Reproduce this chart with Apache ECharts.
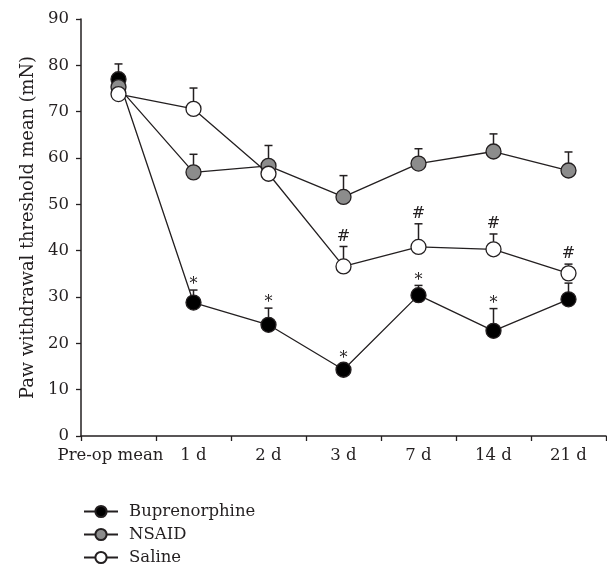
<!DOCTYPE html>
<html>
<head>
<meta charset="utf-8">
<script src="https://cdn.jsdelivr.net/npm/echarts@6/dist/echarts.min.js"></script>
<style>
html,body{margin:0;padding:0;background:#fff;}
#chart{width:607px;height:572px;}
</style>
</head>
<body>
<div id="chart"></div>
<script>
const categories = ['Pre-op mean', '1 d', '2 d', '3 d', '7 d', '14 d', '21 d'];
const yTicks = [0, 10, 20, 30, 40, 50, 60, 70, 80, 90];

const bupMean   = [77.0, 28.8, 24.0, 14.3, 30.4, 22.7, 29.5];
const bupUpper  = [80.3, 31.5, 27.6, 15.5, 32.5, 27.5, 33.0];
const bupSig    = ['', '*', '*', '*', '*', '*', ''];

const nsaidMean  = [75.3, 56.9, 58.3, 51.6, 58.8, 61.4, 57.3];
const nsaidUpper = [76.5, 60.8, 62.7, 56.2, 62.0, 65.2, 61.3];
const nsaidSig   = ['', '', '', '', '', '', ''];

const salMean   = [73.8, 70.6, 56.6, 36.6, 40.8, 40.3, 35.1];
const salUpper  = [74.5, 75.1, 57.5, 40.9, 45.8, 43.6, 37.1];
const salSig    = ['', '', '', '#', '#', '#', '#'];

const FONT = 'DejaVu Serif';
const TXT = '#231f20';

function errSeries(mean, upper, sig) {
  return {
    type: 'custom',
    z: 1,
    silent: true,
    data: mean.map((m, i) => [i, m, upper[i]]),
    renderItem: function (params, api) {
      const i = params.dataIndex;
      const p0 = api.coord([api.value(0), api.value(1)]);
      const p1 = api.coord([api.value(0), api.value(2)]);
      const children = [
        { type: 'line', shape: { x1: p0[0], y1: p0[1], x2: p1[0], y2: p1[1] },
          style: { stroke: TXT, lineWidth: 1.5 } },
        { type: 'line', shape: { x1: p1[0] - 4, y1: p1[1], x2: p1[0] + 4, y2: p1[1] },
          style: { stroke: TXT, lineWidth: 1.5 } }
      ];
      if (sig[i]) {
        children.push({
          type: 'text',
          style: {
            text: sig[i], x: p1[0], y: p1[1] - (sig[i] === '*' ? -3 : 2),
            align: 'center', verticalAlign: 'bottom',
            font: '16px "' + FONT + '"', fill: TXT
          }
        });
      }
      return { type: 'group', children: children };
    }
  };
}

function lineSeries(name, data, fill, z) {
  return {
    name: name, type: 'line', data: data, z: z,
    symbol: 'circle', symbolSize: 15,
    lineStyle: { color: TXT, width: 1.3 },
    itemStyle: { color: fill, borderColor: TXT, borderWidth: 1.3 },
    emphasis: { disabled: true }
  };
}

const chart = echarts.init(document.getElementById('chart'), null, { renderer: 'canvas' });
chart.setOption({
  animation: false,
  backgroundColor: '#fff',
  textStyle: { fontFamily: FONT, color: TXT },
  grid: { left: 81, right: 1, top: 19, bottom: 136, containLabel: false },
  legend: {
    orient: 'vertical', left: 78, top: 498, itemWidth: 34, itemHeight: 14, itemGap: 6,
    textStyle: { fontFamily: FONT, fontSize: 16.5, color: TXT, padding: [0, 0, 0, 6] },
    data: ['Buprenorphine', 'NSAID', 'Saline'],
    selectedMode: false
  },
  xAxis: {
    type: 'category',
    data: categories.map((c, i) => i === 0 ? { value: c, textStyle: { padding: [0, 16, 0, 0] } } : c),
    boundaryGap: true,
    axisLine: { lineStyle: { color: TXT, width: 1.5 } },
    axisTick: { show: true, interval: 0, length: 5, lineStyle: { color: TXT, width: 1.3 } },
    axisLabel: { interval: 0, fontFamily: FONT, fontSize: 16.5, color: TXT, margin: 11 },
    splitLine: { show: false }
  },
  yAxis: {
    type: 'value', min: yTicks[0], max: yTicks[yTicks.length - 1], interval: 10,
    name: 'Paw withdrawal threshold mean (mN)', nameLocation: 'middle', nameGap: 44,
    nameTextStyle: { fontFamily: FONT, fontSize: 17.8, color: TXT },
    axisLine: { show: true, lineStyle: { color: TXT, width: 1.5 } },
    axisTick: { show: true, length: 5, lineStyle: { color: TXT, width: 1.3 } },
    axisLabel: { fontFamily: FONT, fontSize: 16.5, color: TXT, margin: 12 },
    splitLine: { show: false }
  },
  series: [
    errSeries(bupMean, bupUpper, bupSig),
    errSeries(nsaidMean, nsaidUpper, nsaidSig),
    errSeries(salMean, salUpper, salSig),
    lineSeries('Buprenorphine', bupMean, '#000000', 2),
    lineSeries('NSAID', nsaidMean, '#8c8c8c', 3),
    lineSeries('Saline', salMean, '#ffffff', 4)
  ]
});
</script>
</body>
</html>
